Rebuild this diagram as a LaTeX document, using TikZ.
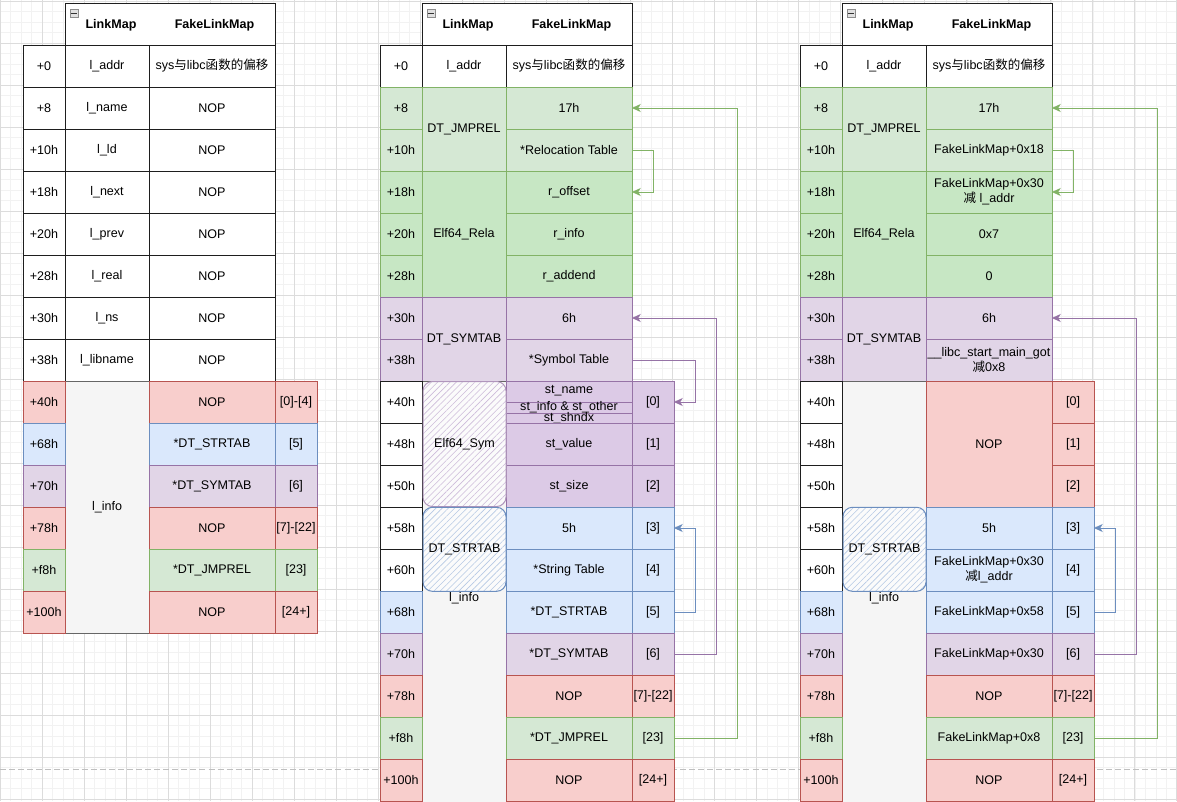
\documentclass[tikz,border=0pt]{standalone}
\usepackage{fontspec}
\setmainfont{Liberation Sans}
\newfontfamily\cjk{Noto Sans CJK SC}
\usetikzlibrary{arrows.meta,patterns.meta}
\definecolor{redF}{HTML}{F8CECC}\definecolor{redB}{HTML}{B85450}
\definecolor{bluF}{HTML}{DAE8FC}\definecolor{bluB}{HTML}{6C8EBF}
\definecolor{purF}{HTML}{E1D5E7}\definecolor{purF2}{HTML}{DCCAE6}\definecolor{purB}{HTML}{9673A6}
\definecolor{grnF}{HTML}{D5E8D4}\definecolor{grnF2}{HTML}{C7E7C4}\definecolor{grnB}{HTML}{82B366}
\definecolor{gryF}{HTML}{F5F5F5}\definecolor{gryB}{HTML}{666666}
\definecolor{lineK}{HTML}{1E1E1E}
\definecolor{gMin}{HTML}{F2F2F2}\definecolor{gMaj}{HTML}{DCDCDC}
\definecolor{symH}{HTML}{CDBCDA}\definecolor{strH}{HTML}{B6C9E4}
\newcommand\cellfont{\fontsize{9.4}{11.25}\selectfont}
\newcommand\tcell[7]{\node[cellbase,#6,minimum width={#4*0.75pt},minimum height={#5*0.75pt}] (#1) at ({#2+#4/2},{#3+#5/2}) {#7};}
\begin{document}
\begin{tikzpicture}[x=0.75pt,y=-0.75pt,
  cellbase/.style={draw,line width=0.75pt,inner sep=0pt,outer sep=0pt,align=center,font=\cellfont,text=black},
  wc/.style={fill=white,draw=lineK},
  rd/.style={fill=redF,draw=redB},
  bl/.style={fill=bluF,draw=bluB},
  pu/.style={fill=purF,draw=purB},
  pu2/.style={fill=purF2,draw=purB},
  gr/.style={fill=grnF,draw=grnB},
  gr2/.style={fill=grnF2,draw=grnB},
  gy/.style={fill=gryF,draw=gryB},
  txt/.style={inner sep=0pt,outer sep=0pt,font=\cellfont,text=black,align=center},
  hdrtxt/.style={txt,font=\cellfont\bfseries},
  icon/.style={draw=black!45,fill=black!12,line width=0.5pt,minimum size=6pt,inner sep=0pt,
    path picture={\draw[line width=0.7pt,black!80] ([xshift=-2.1pt]path picture bounding box.center) -- ([xshift=2.1pt]path picture bounding box.center);}},
  sketchsym/.style={draw=purB!75,line width=0.75pt,rounded corners=7pt,preaction={fill=white!60!gryF},
    pattern={Lines[angle=45,distance=3.3pt,line width=0.45pt]},pattern color=symH,inner sep=0pt,outer sep=0pt,font=\cellfont,text=black},
  sketchstr/.style={draw=bluB,line width=0.75pt,rounded corners=7pt,preaction={fill=white!60!gryF},
    pattern={Lines[angle=45,distance=3.3pt,line width=0.45pt]},pattern color=strH,inner sep=0pt,outer sep=0pt,font=\cellfont,text=black},
  arr/.style={line width=0.75pt,-{Stealth[length=6.5pt,width=6pt,inset=1.8pt]}},
  pagebreak/.style={draw=black!25,line width=0.75pt,dash pattern=on 4.5pt off 2.3pt}
]
\useasboundingbox (0,0) rectangle (1177,801);
\clip (0,0) rectangle (1177,801);
\fill[white] (0,0) rectangle (1177,801);
% grid
\foreach \x in {0,10.51,...,1180} \draw[gMin,line width=0.6pt] (\x,0) -- (\x,801);
\foreach \y in {1,11.5,...,805} \draw[gMin,line width=0.6pt] (0,\y) -- (1177,\y);
\foreach \x in {0,42.03,...,1180} \draw[gMaj,line width=0.7pt] (\x,0) -- (\x,801);
\foreach \y in {1,43,...,805} \draw[gMaj,line width=0.7pt] (0,\y) -- (1177,\y);
\coordinate (pbL) at (0,769); \coordinate (pbR) at (1177,769);
\draw[pagebreak] (pbL) -- (pbR);

%%%%%%%% TABLE 1
\tcell{a-hdr}{65}{3}{210}{42}{wc}{}
\node[hdrtxt] (a-hl) at (111,25) {LinkMap};
\node[hdrtxt] (a-hf) at (214.5,25) {FakeLinkMap};
\node[icon] (a-ico) at (74,13) {};
\tcell{a-o0}{23}{45}{42}{42}{wc}{+0}\tcell{a-l0}{65}{45}{84}{42}{wc}{l\_addr}\tcell{a-c0}{149}{45}{126}{42}{wc}{sys{\cjk 与}libc{\cjk 函数的偏移}}
\tcell{a-o8}{23}{87}{42}{42}{wc}{+8}\tcell{a-l8}{65}{87}{84}{42}{wc}{l\_name}\tcell{a-c8}{149}{87}{126}{42}{wc}{NOP}
\tcell{a-o10}{23}{129}{42}{42}{wc}{+10h}\tcell{a-l10}{65}{129}{84}{42}{wc}{l\_ld}\tcell{a-c10}{149}{129}{126}{42}{wc}{NOP}
\tcell{a-o18}{23}{171}{42}{42}{wc}{+18h}\tcell{a-l18}{65}{171}{84}{42}{wc}{l\_next}\tcell{a-c18}{149}{171}{126}{42}{wc}{NOP}
\tcell{a-o20}{23}{213}{42}{42}{wc}{+20h}\tcell{a-l20}{65}{213}{84}{42}{wc}{l\_prev}\tcell{a-c20}{149}{213}{126}{42}{wc}{NOP}
\tcell{a-o28}{23}{255}{42}{42}{wc}{+28h}\tcell{a-l28}{65}{255}{84}{42}{wc}{l\_real}\tcell{a-c28}{149}{255}{126}{42}{wc}{NOP}
\tcell{a-o30}{23}{297}{42}{42}{wc}{+30h}\tcell{a-l30}{65}{297}{84}{42}{wc}{l\_ns}\tcell{a-c30}{149}{297}{126}{42}{wc}{NOP}
\tcell{a-o38}{23}{339}{42}{42}{wc}{+38h}\tcell{a-l38}{65}{339}{84}{42}{wc}{l\_libname}\tcell{a-c38}{149}{339}{126}{42}{wc}{NOP}
\tcell{a-linfo}{65}{381}{84}{252}{gy}{l\_info}
\tcell{a-o40}{23}{381}{42}{42}{rd}{+40h}\tcell{a-c40}{149}{381}{126}{42}{rd}{NOP}\tcell{a-i40}{275}{381}{42}{42}{rd}{[0]-[4]}
\tcell{a-o68}{23}{423}{42}{42}{bl}{+68h}\tcell{a-c68}{149}{423}{126}{42}{bl}{*DT\_STRTAB}\tcell{a-i68}{275}{423}{42}{42}{bl}{[5]}
\tcell{a-o70}{23}{465}{42}{42}{pu}{+70h}\tcell{a-c70}{149}{465}{126}{42}{pu}{*DT\_SYMTAB}\tcell{a-i70}{275}{465}{42}{42}{pu}{[6]}
\tcell{a-o78}{23}{507}{42}{42}{rd}{+78h}\tcell{a-c78}{149}{507}{126}{42}{rd}{NOP}\tcell{a-i78}{275}{507}{42}{42}{rd}{[7]-[22]}
\tcell{a-of8}{23}{549}{42}{42}{gr}{+f8h}\tcell{a-cf8}{149}{549}{126}{42}{gr}{*DT\_JMPREL}\tcell{a-if8}{275}{549}{42}{42}{gr}{[23]}
\tcell{a-o100}{23}{591}{42}{42}{rd}{+100h}\tcell{a-c100}{149}{591}{126}{42}{rd}{NOP}\tcell{a-i100}{275}{591}{42}{42}{rd}{[24+]}

%%%%%%%% TABLE 2
\tcell{b-hdr}{422}{3}{210}{42}{wc}{}
\node[hdrtxt] (b-hl) at (468,25) {LinkMap};
\node[hdrtxt] (b-hf) at (571.5,25) {FakeLinkMap};
\node[icon] (b-ico) at (431,13) {};
\tcell{b-o0}{380}{45}{42}{42}{wc}{+0}\tcell{b-l0}{422}{45}{84}{42}{wc}{l\_addr}\tcell{b-c0}{506}{45}{126}{42}{wc}{sys{\cjk 与}libc{\cjk 函数的偏移}}
\tcell{b-lJ}{422}{87}{84}{84}{gr}{DT\_JMPREL}
\tcell{b-o8}{380}{87}{42}{42}{gr}{+8}\tcell{b-c8}{506}{87}{126}{42}{gr}{17h}
\tcell{b-o10}{380}{129}{42}{42}{gr}{+10h}\tcell{b-c10}{506}{129}{126}{42}{gr}{*Relocation Table}
\tcell{b-lR}{422}{171}{84}{126}{gr2}{Elf64\_Rela}
\tcell{b-o18}{380}{171}{42}{42}{gr2}{+18h}\tcell{b-c18}{506}{171}{126}{42}{gr2}{r\_offset}
\tcell{b-o20}{380}{213}{42}{42}{gr2}{+20h}\tcell{b-c20}{506}{213}{126}{42}{gr2}{r\_info}
\tcell{b-o28}{380}{255}{42}{42}{gr2}{+28h}\tcell{b-c28}{506}{255}{126}{42}{gr2}{r\_addend}
\tcell{b-lS}{422}{297}{84}{84}{pu}{DT\_SYMTAB}
\tcell{b-o30}{380}{297}{42}{42}{pu}{+30h}\tcell{b-c30}{506}{297}{126}{42}{pu}{6h}
\tcell{b-o38}{380}{339}{42}{42}{pu}{+38h}\tcell{b-c38}{506}{339}{126}{42}{pu}{*Symbol Table}
\tcell{b-linfo}{422}{381}{84}{440}{gy}{}
\node[txt] (b-linfoT) at (464,598) {l\_info};
\tcell{b-o40}{380}{381}{42}{42}{wc}{+40h}
\tcell{b-o48}{380}{423}{42}{42}{wc}{+48h}
\tcell{b-o50}{380}{465}{42}{42}{wc}{+50h}
\tcell{b-o58}{380}{507}{42}{42}{wc}{+58h}
\tcell{b-o60}{380}{549}{42}{42}{wc}{+60h}
\tcell{b-o68}{380}{591}{42}{42}{bl}{+68h}
\tcell{b-o70}{380}{633}{42}{42}{pu}{+70h}
\tcell{b-o78}{380}{675}{42}{42}{rd}{+78h}
\tcell{b-of8}{380}{717}{42}{42}{gr}{+f8h}
\tcell{b-o100}{380}{759}{42}{42}{rd}{+100h}
\tcell{b-cn}{506}{381}{126}{21}{pu2}{}
\tcell{b-ci}{506}{402}{126}{11}{pu2}{}
\tcell{b-cs}{506}{413}{126}{10}{pu2}{}
\node[txt] (b-tn) at (569,391) {st\_name};
\node[txt] (b-ti) at (569,407.5) {st\_info \& st\_other};
\node[txt] (b-ts) at (569,418) {st\_shndx};
\tcell{b-i0}{632}{381}{42}{42}{pu2}{[0]}
\tcell{b-c48}{506}{423}{126}{42}{pu2}{st\_value}\tcell{b-i1}{632}{423}{42}{42}{pu2}{[1]}
\tcell{b-c50}{506}{465}{126}{42}{pu2}{st\_size}\tcell{b-i2}{632}{465}{42}{42}{pu2}{[2]}
\tcell{b-c58}{506}{507}{126}{42}{bl}{5h}\tcell{b-i3}{632}{507}{42}{42}{bl}{[3]}
\tcell{b-c60}{506}{549}{126}{42}{bl}{*String Table}\tcell{b-i4}{632}{549}{42}{42}{bl}{[4]}
\tcell{b-c68}{506}{591}{126}{42}{bl}{*DT\_STRTAB}\tcell{b-i5}{632}{591}{42}{42}{bl}{[5]}
\tcell{b-c70}{506}{633}{126}{42}{pu}{*DT\_SYMTAB}\tcell{b-i6}{632}{633}{42}{42}{pu}{[6]}
\tcell{b-c78}{506}{675}{126}{42}{rd}{NOP}\tcell{b-i7}{632}{675}{42}{42}{rd}{[7]-[22]}
\tcell{b-cf8}{506}{717}{126}{42}{gr}{*DT\_JMPREL}\tcell{b-i23}{632}{717}{42}{42}{gr}{[23]}
\tcell{b-c100}{506}{759}{126}{42}{rd}{NOP}\tcell{b-i24}{632}{759}{42}{42}{rd}{[24+]}
\node[sketchsym,minimum width={83*0.75pt},minimum height={125*0.75pt}] (b-sym) at (464.5,444) {Elf64\_Sym};
\node[sketchstr,minimum width={83*0.75pt},minimum height={84*0.75pt}] (b-str) at (464.5,549.3) {DT\_STRTAB};
% arrows
\draw[arr,draw=grnB] (b-i23.east) -- ++(63,0) |- (b-c8.east);
\draw[arr,draw=grnB] (b-c10.east) -- ++(21,0) |- (b-c18.east);
\draw[arr,draw=purB] (b-i6.east) -- ++(42,0) |- (b-c30.east);
\draw[arr,draw=purB] (b-c38.east) -- ++(63,0) |- (b-i0.east);
\draw[arr,draw=bluB] (b-i5.east) -- ++(21,0) |- (b-i3.east);

%%%%%%%% TABLE 3
\tcell{c-hdr}{842}{3}{210}{42}{wc}{}
\node[hdrtxt] (c-hl) at (888,25) {LinkMap};
\node[hdrtxt] (c-hf) at (991.5,25) {FakeLinkMap};
\node[icon] (c-ico) at (851,13) {};
\tcell{c-o0}{800}{45}{42}{42}{wc}{+0}\tcell{c-l0}{842}{45}{84}{42}{wc}{l\_addr}\tcell{c-c0}{926}{45}{126}{42}{wc}{sys{\cjk 与}libc{\cjk 函数的偏移}}
\tcell{c-lJ}{842}{87}{84}{84}{gr}{DT\_JMPREL}
\tcell{c-o8}{800}{87}{42}{42}{gr}{+8}\tcell{c-c8}{926}{87}{126}{42}{gr}{17h}
\tcell{c-o10}{800}{129}{42}{42}{gr}{+10h}\tcell{c-c10}{926}{129}{126}{42}{gr}{FakeLinkMap+0x18}
\tcell{c-lR}{842}{171}{84}{126}{gr2}{Elf64\_Rela}
\tcell{c-o18}{800}{171}{42}{42}{gr2}{+18h}\tcell{c-c18}{926}{171}{126}{42}{gr2}{FakeLinkMap+0x30\\{\cjk 减} l\_addr}
\tcell{c-o20}{800}{213}{42}{42}{gr2}{+20h}\tcell{c-c20}{926}{213}{126}{42}{gr2}{0x7}
\tcell{c-o28}{800}{255}{42}{42}{gr2}{+28h}\tcell{c-c28}{926}{255}{126}{42}{gr2}{0}
\tcell{c-lS}{842}{297}{84}{84}{pu}{DT\_SYMTAB}
\tcell{c-o30}{800}{297}{42}{42}{pu}{+30h}\tcell{c-c30}{926}{297}{126}{42}{pu}{6h}
\tcell{c-o38}{800}{339}{42}{42}{pu}{+38h}\tcell{c-c38}{926}{339}{126}{42}{pu}{\_\_libc\_start\_main\_got\\{\cjk 减}0x8}
\tcell{c-linfo}{842}{381}{84}{440}{gy}{}
\node[txt] (c-linfoT) at (884,598) {l\_info};
\tcell{c-o40}{800}{381}{42}{42}{wc}{+40h}
\tcell{c-o48}{800}{423}{42}{42}{wc}{+48h}
\tcell{c-o50}{800}{465}{42}{42}{wc}{+50h}
\tcell{c-o58}{800}{507}{42}{42}{wc}{+58h}
\tcell{c-o60}{800}{549}{42}{42}{wc}{+60h}
\tcell{c-o68}{800}{591}{42}{42}{bl}{+68h}
\tcell{c-o70}{800}{633}{42}{42}{pu}{+70h}
\tcell{c-o78}{800}{675}{42}{42}{rd}{+78h}
\tcell{c-of8}{800}{717}{42}{42}{gr}{+f8h}
\tcell{c-o100}{800}{759}{42}{42}{rd}{+100h}
\tcell{c-cN}{926}{381}{126}{126}{rd}{NOP}
\tcell{c-i0}{1052}{381}{42}{42}{rd}{[0]}
\tcell{c-i1}{1052}{423}{42}{42}{rd}{[1]}
\tcell{c-i2}{1052}{465}{42}{42}{rd}{[2]}
\tcell{c-c58}{926}{507}{126}{42}{bl}{5h}\tcell{c-i3}{1052}{507}{42}{42}{bl}{[3]}
\tcell{c-c60}{926}{549}{126}{42}{bl}{FakeLinkMap+0x30\\{\cjk 减}l\_addr}\tcell{c-i4}{1052}{549}{42}{42}{bl}{[4]}
\tcell{c-c68}{926}{591}{126}{42}{bl}{FakeLinkMap+0x58}\tcell{c-i5}{1052}{591}{42}{42}{bl}{[5]}
\tcell{c-c70}{926}{633}{126}{42}{pu}{FakeLinkMap+0x30}\tcell{c-i6}{1052}{633}{42}{42}{pu}{[6]}
\tcell{c-c78}{926}{675}{126}{42}{rd}{NOP}\tcell{c-i7}{1052}{675}{42}{42}{rd}{[7]-[22]}
\tcell{c-cf8}{926}{717}{126}{42}{gr}{FakeLinkMap+0x8}\tcell{c-i23}{1052}{717}{42}{42}{gr}{[23]}
\tcell{c-c100}{926}{759}{126}{42}{rd}{NOP}\tcell{c-i24}{1052}{759}{42}{42}{rd}{[24+]}
\node[sketchstr,minimum width={83*0.75pt},minimum height={84*0.75pt}] (c-str) at (884.5,549.3) {DT\_STRTAB};
% arrows
\draw[arr,draw=grnB] (c-i23.east) -- ++(63,0) |- (c-c8.east);
\draw[arr,draw=grnB] (c-c10.east) -- ++(21,0) |- (c-c18.east);
\draw[arr,draw=purB] (c-i6.east) -- ++(42,0) |- (c-c30.east);
\draw[arr,draw=bluB] (c-i5.east) -- ++(21,0) |- (c-i3.east);
\end{tikzpicture}
\end{document}
